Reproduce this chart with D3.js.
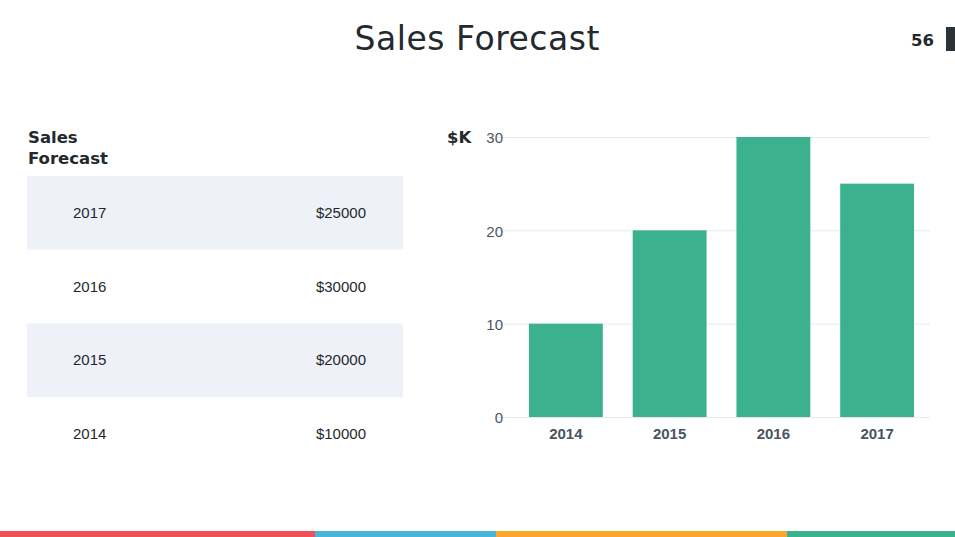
<!DOCTYPE html>
<html><head><meta charset="utf-8">
<script src="https://cdn.jsdelivr.net/npm/d3@7"></script>
<style>body{margin:0;background:#fff;overflow:hidden}</style>
</head><body><svg id="c" width="955" height="537"></svg>
<script>
const years = ["2014", "2015", "2016", "2017"];
const salesK = [10, 20, 30, 25];
const tableYears = ["2017", "2016", "2015", "2014"];
const tableValues = ["$25000", "$30000", "$20000", "$10000"];
const yTicks = [0, 10, 20, 30];
const stripeColors = ["#f25057", "#4db4d9", "#fca82e", "#3bb28d"];
const stripeWidths = [315, 181, 291, 168];

const svg = d3.select("#c");
const dark = "#23292d";

// Title
svg.append("text").attr("x", 477).attr("y", 50).attr("text-anchor", "middle")
  .attr("font-family", "DejaVu Sans").attr("font-size", 33).attr("fill", dark)
  .attr("textLength", 245).text("Sales Forecast");
// page number
svg.append("text").attr("x", 934).attr("y", 46).attr("text-anchor", "end")
  .attr("font-family", "DejaVu Sans").attr("font-weight", "bold").attr("font-size", 16.5).attr("fill", dark).text("56");
svg.append("rect").attr("x", 946).attr("y", 27).attr("width", 9).attr("height", 24).attr("fill", "#2b3338");

// Table
svg.append("text").attr("x", 28).attr("y", 143).attr("font-family", "DejaVu Sans").attr("font-weight", "bold")
  .attr("font-size", 16.5).attr("fill", dark).text("Sales");
svg.append("text").attr("x", 28).attr("y", 164).attr("font-family", "DejaVu Sans").attr("font-weight", "bold")
  .attr("font-size", 16.5).attr("fill", dark).text("Forecast");
const rowY = d3.scaleBand().domain(tableYears).range([176, 471]);
const rows = svg.append("g").selectAll("g").data(tableYears).join("g")
  .attr("transform", d => `translate(0,${rowY(d)})`);
rows.append("rect").attr("x", 27).attr("width", 376).attr("height", rowY.bandwidth())
  .attr("fill", (d, i) => i % 2 === 0 ? "#eef1f8" : "#fff");
rows.append("text").attr("x", 73).attr("y", rowY.bandwidth() / 2 + 5)
  .attr("font-family", "Liberation Sans").attr("font-size", 15).attr("fill", dark).text(d => d);
rows.append("text").attr("x", 366).attr("y", rowY.bandwidth() / 2 + 5).attr("text-anchor", "end")
  .attr("font-family", "Liberation Sans").attr("font-size", 15).attr("fill", dark).text((d, i) => tableValues[i]);

// Chart
const x = d3.scaleBand().domain(years).range([514, 929]).paddingInner(0.288).paddingOuter(0.144);
const y = d3.scaleLinear().domain([0, 30]).range([417, 137]);

const grid = svg.append("g");
grid.selectAll("line").data(yTicks).join("line")
  .attr("x1", 497).attr("x2", 930).attr("y1", d => y(d) + 0.5).attr("y2", d => y(d) + 0.5)
  .attr("stroke", "#e6e8ea").attr("stroke-width", 1);

const yAxis = svg.append("g").attr("transform", "translate(503,1)")
  .call(d3.axisLeft(y).tickValues(yTicks).tickSize(0).tickPadding(0));
yAxis.select(".domain").remove();
yAxis.selectAll("text").attr("font-family", "Liberation Sans").attr("font-size", 15).attr("fill", "#4a5560");

svg.append("text").attr("x", 447).attr("y", 143).attr("font-family", "DejaVu Sans").attr("font-weight", "bold")
  .attr("font-size", 16.5).attr("fill", dark).text("$K");

svg.append("g").selectAll("rect").data(years).join("rect")
  .attr("x", d => x(d)).attr("width", x.bandwidth())
  .attr("y", (d, i) => y(salesK[i])).attr("height", (d, i) => y(0) - y(salesK[i]))
  .attr("fill", "#3bb28d");

const xAxis = svg.append("g").attr("transform", "translate(0,417)")
  .call(d3.axisBottom(x).tickSize(0).tickPadding(11));
xAxis.select(".domain").remove();
xAxis.selectAll("text").attr("font-family", "Liberation Sans").attr("font-weight", "bold")
  .attr("font-size", 15).attr("fill", "#4a5560");

// bottom stripe
let acc = 0;
const offs = stripeWidths.map(w => { const o = acc; acc += w; return o; });
svg.append("g").selectAll("rect").data(stripeColors).join("rect")
  .attr("x", (d, i) => offs[i]).attr("y", 531).attr("width", (d, i) => stripeWidths[i]).attr("height", 6)
  .attr("fill", d => d);
</script></body></html>
